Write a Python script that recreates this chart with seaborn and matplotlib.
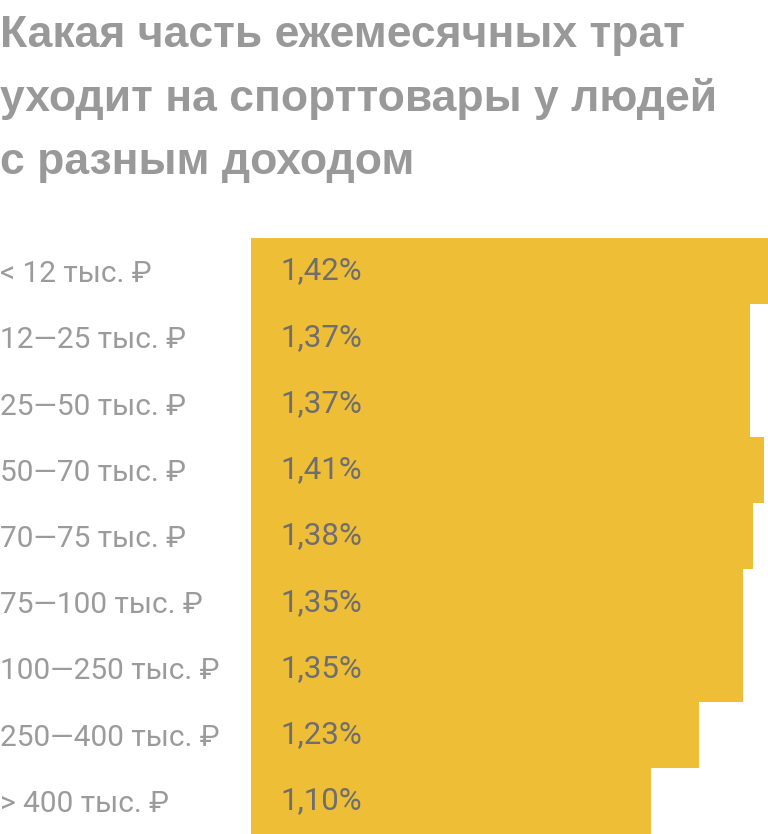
import matplotlib
matplotlib.use("Agg")
import matplotlib.pyplot as plt
import seaborn as sns
import pandas as pd

categories = ["< 12 тыс. ₽", "12—25 тыс. ₽", "25—50 тыс. ₽", "50—70 тыс. ₽",
              "70—75 тыс. ₽", "75—100 тыс. ₽", "100—250 тыс. ₽",
              "250—400 тыс. ₽", "> 400 тыс. ₽"]
values = [1.42, 1.37, 1.37, 1.41, 1.38, 1.35, 1.35, 1.23, 1.10]
value_labels = ["1,42%", "1,37%", "1,37%", "1,41%", "1,38%", "1,35%", "1,35%", "1,23%", "1,10%"]
title = "Какая часть ежемесячных трат\nуходит на спорттовары у людей\nс разным доходом"

sns.set_theme(style="white")
plt.rcParams['font.family'] = ['Roboto', 'DejaVu Sans']

df = pd.DataFrame({"cat": categories, "val": values})

W, H = 768, 834
fig = plt.figure(figsize=(W / 100, H / 100), dpi=100)
ax = fig.add_axes([251 / W, 0, 1 - 251 / W, (H - 238) / H])
sns.barplot(data=df, y="cat", x="val", color="#EFBE37", saturation=1,
            width=1.0, ax=ax, orient="h")
for p in ax.patches:
    p.set_linewidth(0)
ax.set_xlim(0, 1.42)
ax.set_ylim(len(categories) - 0.5, -0.5)
ax.set_xlabel("")
ax.set_ylabel("")
ax.set_xticks([])
for s in ax.spines.values():
    s.set_visible(False)

ax.tick_params(axis="y", length=0, pad=251 * 0.72)
ax.set_yticks(range(len(categories)))
ax.set_yticklabels(categories, fontsize=21.5, color="#9B9B9B", ha="left")

for i, lab in enumerate(value_labels):
    ax.text(29 / 364, i, lab, ha="left", va="center", fontsize=22.5,
            color="#6E6E6E")

fig.text(0.0, 1 - 15 / H, title, ha="left", va="top", fontsize=32,
         fontweight="bold", color="#999999", linespacing=1.68,
         family=['Liberation Sans', 'DejaVu Sans'])

fig.savefig("out.png", dpi=100)
